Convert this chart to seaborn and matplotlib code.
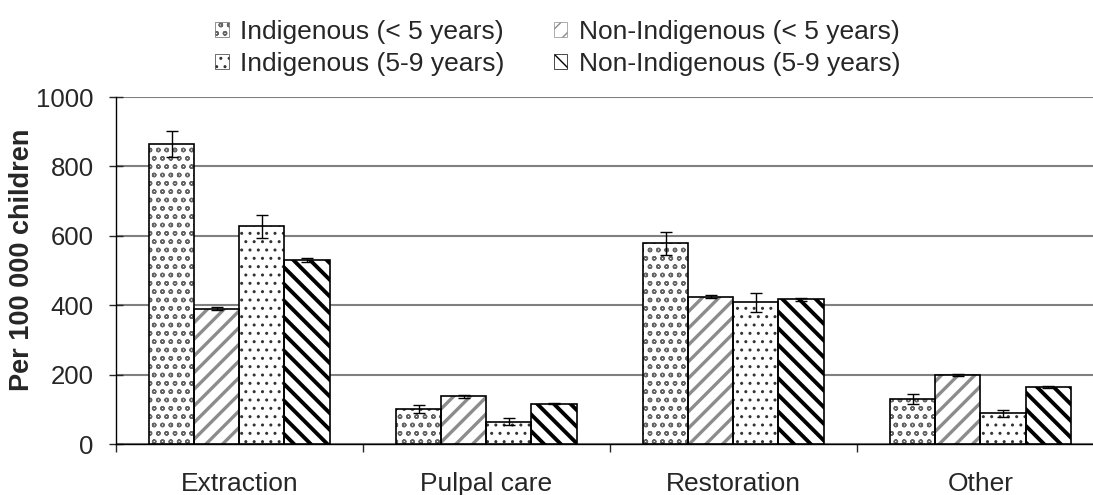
import numpy as np
import pandas as pd
import seaborn as sns
import matplotlib.pyplot as plt
from matplotlib.patches import Patch, Rectangle

categories = ['Extraction', 'Pulpal care', 'Restoration', 'Other']
groups = ['Indigenous (< 5 years)', 'Non-Indigenous (< 5 years)',
          'Indigenous (5-9 years)', 'Non-Indigenous (5-9 years)']

indig_u5 = [865, 100, 578, 130]
nonindig_u5 = [390, 137, 425, 200]
indig_5_9 = [627, 64, 408, 88]
nonindig_5_9 = [530, 116, 417, 165]

indig_u5_err = [38, 12, 32, 14]
nonindig_u5_err = [5, 4, 5, 3]
indig_5_9_err = [32, 10, 27, 10]
nonindig_5_9_err = [5, 2, 5, 3]

hatches = {groups[0]: 'oo', groups[1]: '//', groups[2]: '..', groups[3]: '\\\\'}
hatch_colors = {groups[0]: '#666666', groups[1]: '#8c8c8c', groups[2]: '#333333', groups[3]: 'black'}
hatch_widths = {groups[0]: 1.0, groups[1]: 2.4, groups[2]: 1.0, groups[3]: 2.8}


def main():
    sns.set_style('white')
    plt.rcParams['font.family'] = ['Liberation Sans', 'DejaVu Sans']
    fs = 19

    values = [indig_u5, nonindig_u5, indig_5_9, nonindig_5_9]
    errors = [indig_u5_err, nonindig_u5_err, indig_5_9_err, nonindig_5_9_err]
    df = pd.DataFrame({
        'category': np.tile(categories, len(groups)),
        'group': np.repeat(groups, len(categories)),
        'value': np.concatenate(values),
        'err': np.concatenate(errors),
    })

    fig = plt.figure(figsize=(10.93, 4.95), dpi=100)
    ax = fig.add_axes([0.106, 0.103, 0.904, 0.701])

    sns.barplot(data=df, x='category', y='value', hue='group', order=categories,
                hue_order=groups, width=0.73, palette=['white'] * 4,
                errorbar=None, legend=False, ax=ax, zorder=3)

    # seaborn draws patches group by group in hue_order
    bars = ax.patches[:len(df)]
    for i, p in enumerate(bars):
        g = groups[i // len(categories)]
        p.set_hatch(hatches[g])
        p.set_edgecolor(hatch_colors[g])
        p.set_linewidth(0)
        p.set_hatch_linewidth(hatch_widths[g])
        ax.add_patch(Rectangle(p.get_xy(), p.get_width(), p.get_height(),
                               fill=False, edgecolor='black', linewidth=1.2, zorder=4))

    xs = [p.get_x() + p.get_width() / 2 for p in bars]
    ys = [p.get_height() for p in bars]
    ax.errorbar(xs, ys, yerr=df['err'], fmt='none', ecolor='black',
                elinewidth=1, capsize=4.5, capthick=1, zorder=5)

    ax.set_ylim(0, 1000)
    ax.set_xlim(-0.5, 3.5)
    ax.set_yticks(range(0, 1001, 200))
    ax.yaxis.grid(True, color='#808080', linewidth=1.5, zorder=0)
    ax.set_axisbelow(True)
    for side in ['top', 'right']:
        ax.spines[side].set_visible(False)
    for side in ['left', 'bottom']:
        ax.spines[side].set_color('black')
        ax.spines[side].set_linewidth(1)
    ax.tick_params(axis='y', direction='inout', length=10, width=1, labelsize=18.5, pad=11, left=True)
    ax.tick_params(axis='x', which='major', length=0, labelsize=fs, pad=20)
    ax.set_xticks(np.arange(-0.5, 4, 1), minor=True)
    ax.tick_params(axis='x', which='minor', direction='out', length=6, width=1, bottom=True)
    ax.set_xlabel('')
    ax.set_ylabel('Per 100 000 children', fontsize=19.5, fontweight='bold')
    ax.yaxis.set_label_coords(-0.082, 0.53)

    handles = [Patch(facecolor='white', edgecolor=hatch_colors[g], hatch=hatches[g], linewidth=0.5)
               for g in groups]
    order = [0, 2, 1, 3]
    fig.legend([handles[i] for i in order], [groups[i] for i in order], ncol=2,
               loc='upper left', bbox_to_anchor=(0.197, 0.96), frameon=False, fontsize=fs,
               handlelength=0.5, handleheight=0.5, handletextpad=0.45,
               columnspacing=1.85, labelspacing=0.3, borderpad=0, borderaxespad=0)

    fig.savefig('out.png', dpi=100)


if __name__ == '__main__':
    main()
